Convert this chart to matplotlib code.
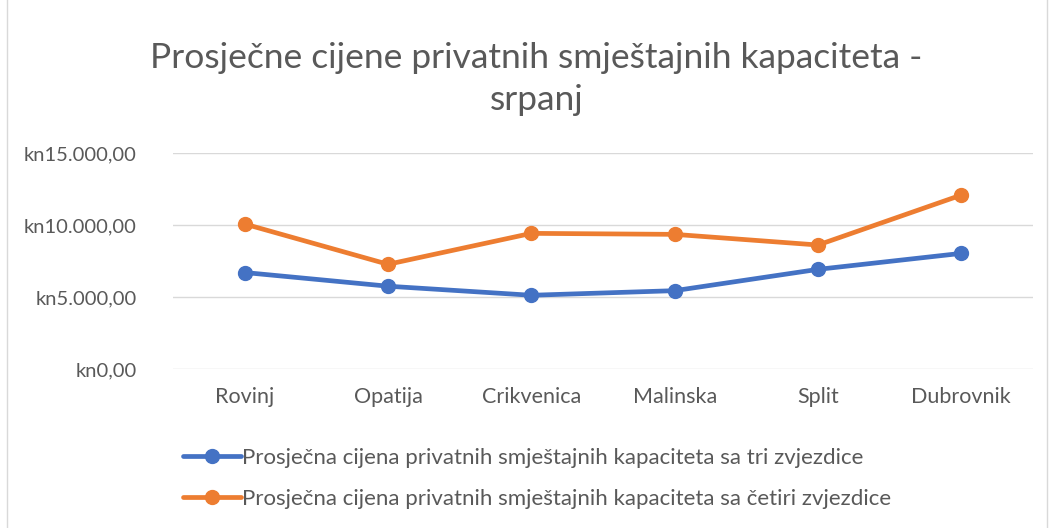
import matplotlib

matplotlib.use("Agg")
import matplotlib.pyplot as plt
from matplotlib.patches import Rectangle
from matplotlib.ticker import FuncFormatter

cities = ["Rovinj", "Opatija", "Crikvenica", "Malinska", "Split", "Dubrovnik"]
three_star = [6700, 5750, 5120, 5440, 6920, 8030]
four_star = [10070, 7270, 9420, 9350, 8610, 12080]
series_labels = [
    "Prosječna cijena privatnih smještajnih kapaciteta sa tri zvjezdice",
    "Prosječna cijena privatnih smještajnih kapaciteta sa četiri zvjezdice",
]
yticks = [0, 5000, 10000, 15000]

BLUE = "#4472c4"
ORANGE = "#ed7d31"
GRAY = "#595959"

plt.rcParams["font.family"] = ["Lato", "DejaVu Sans"]

fig = plt.figure(figsize=(10.52, 5.28), dpi=100)
fig.patches.append(Rectangle((7 / 1052, -0.01), 1040 / 1052, 1.02, transform=fig.transFigure,
                             fill=False, edgecolor="#d9d9d9", linewidth=1))
ax = fig.add_axes([173 / 1052, 1 - 369 / 528, 860 / 1052, 216 / 528])

x = range(len(cities))
lines = []
for vals, color, label in zip([three_star, four_star], [BLUE, ORANGE], series_labels):
    (ln,) = ax.plot(x, vals, color=color, linewidth=3.4, marker="o", markersize=10,
                    solid_capstyle="round", label=label, zorder=3)
    lines.append(ln)

ax.set_xlim(-0.5, len(cities) - 0.5)
ax.set_ylim(0, 15000)
ax.set_yticks(yticks)
ax.yaxis.set_major_formatter(FuncFormatter(
    lambda v, _: "kn" + f"{v:,.2f}".replace(",", "X").replace(".", ",").replace("X", ".")))
ax.set_xticks(list(x))
ax.set_xticklabels(cities)
ax.grid(axis="y", color="#d9d9d9", linewidth=1)
ax.set_axisbelow(True)
for s in ax.spines.values():
    s.set_visible(False)
ax.tick_params(length=0, colors=GRAY)
ax.tick_params(axis="y", pad=26, labelsize=14.5)
ax.tick_params(axis="x", pad=13, labelsize=15.5)

fig.text(0.51, 1 - 58 / 528, "Prosječne cijene privatnih smještajnih kapaciteta -",
         ha="center", va="center", fontsize=25.5, color=GRAY)
fig.text(0.51, 1 - 100 / 528, "srpanj", ha="center", va="center", fontsize=25.5, color=GRAY)

fig.legend(handles=lines, loc="upper left", bbox_to_anchor=(183 / 1052, 1 - 448 / 528),
           frameon=False, fontsize=16, labelcolor=GRAY, handlelength=2.6,
           handletextpad=0.05, labelspacing=0.95, borderaxespad=0, borderpad=0)

fig.savefig("out.png", dpi=100)
plt.close(fig)
